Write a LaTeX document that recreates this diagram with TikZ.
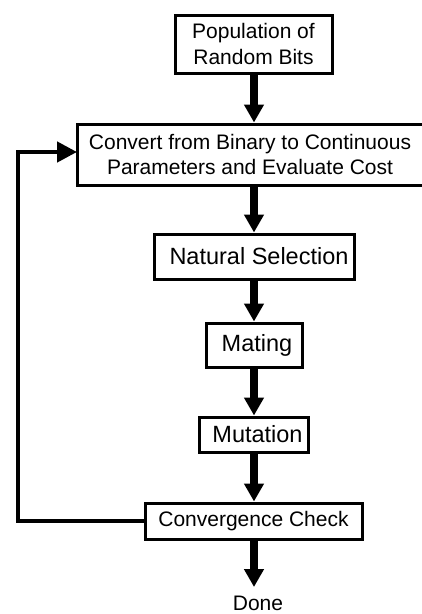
\documentclass[tikz,border=0pt]{standalone}
\usepackage{fontspec}
\setmainfont{Liberation Sans}
\usetikzlibrary{arrows.meta}
\begin{document}
\begin{tikzpicture}[x=1pt,y=-1pt,
  box/.style={draw=black,line width=3pt,rectangle,inner sep=0pt,align=center,
    font=\fontsize{21}{25.5}\selectfont},
  bigbox/.style={box,font=\fontsize{23.5}{28}\selectfont},
  flow/.style={line width=7.5pt,-{Triangle[width=19pt,length=18pt]}},
  back/.style={line width=4.5pt,-{Triangle[width=20pt,length=20pt]}},
  lbl/.style={inner sep=0pt,font=\fontsize{21}{25.5}\selectfont}]
\useasboundingbox[fill=white] (0,0) rectangle (421,614);
\node[box,minimum width=157pt,minimum height=58pt] (pop) at (253.5,44)
  {Population of\\Random Bits};
\node[box,minimum width=346pt,minimum height=61pt] (conv) at (250,154.5)
  {Convert from Binary to Continuous\\Parameters and Evaluate Cost};
\node[bigbox,minimum width=200pt,minimum height=45pt] (sel) at (254,256.5)
  {\hspace*{10pt}Natural Selection};
\node[bigbox,minimum width=96pt,minimum height=44pt] (mat) at (254,345)
  {\hspace*{6pt}Mating};
\node[bigbox,minimum width=109pt,minimum height=35pt] (mut) at (253.5,434.5)
  {\hspace*{8pt}Mutation};
\node[box,minimum width=217pt,minimum height=36pt] (chk) at (253.5,521)
  {Convergence Check};
\node[lbl,anchor=base] (done) at (258,610) {Done};
\coordinate (cdone) at (254,587);
\coordinate (c1) at (18,521);
\coordinate (c2) at (18,152);
\coordinate (c3) at (77,152);
\draw[flow] (pop.south -| 254,0) -- (conv.north -| 254,0);
\draw[flow] (conv.south -| 254,0) -- (sel.north -| 254,0);
\draw[flow] (sel.south -| 254,0) -- (mat.north -| 254,0);
\draw[flow] (mat.south -| 254,0) -- (mut.north -| 254,0);
\draw[flow] (mut.south -| 254,0) -- (chk.north -| 254,0);
\draw[flow] (chk.south -| 254,0) -- (cdone);
\draw[back] (chk.west) -- (c1) -- (c2) -- (c3);
\end{tikzpicture}
\end{document}
